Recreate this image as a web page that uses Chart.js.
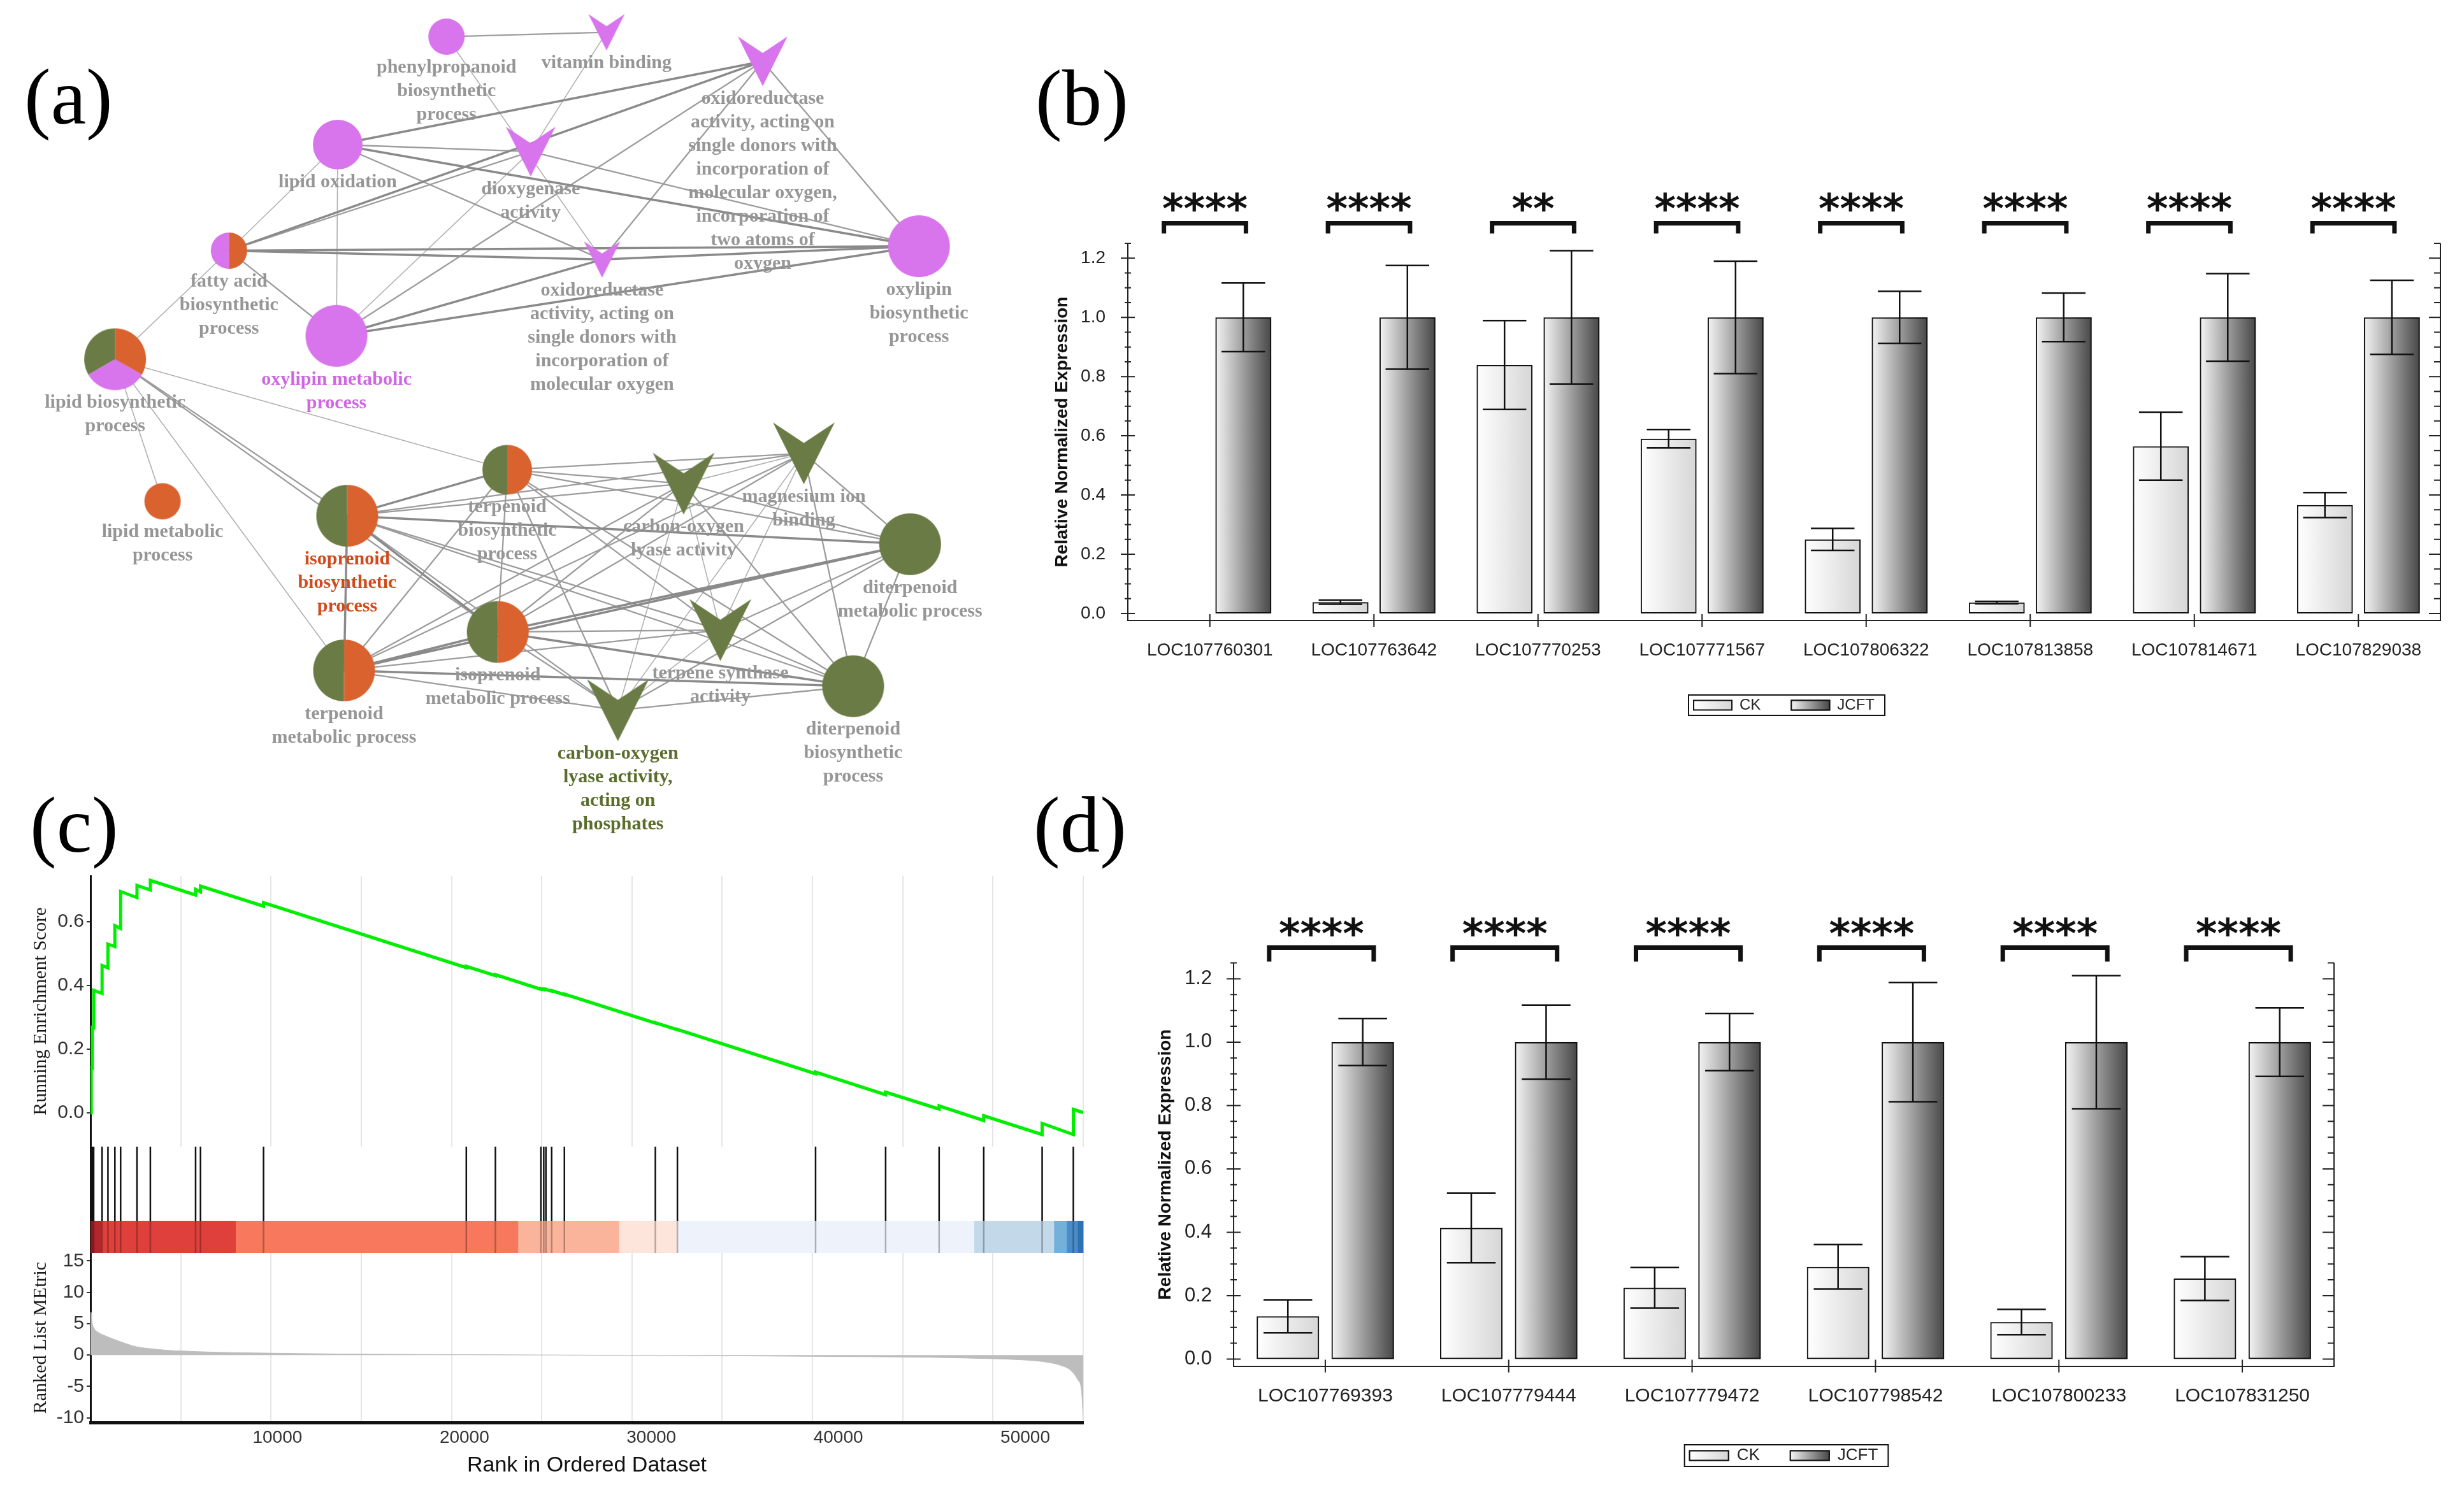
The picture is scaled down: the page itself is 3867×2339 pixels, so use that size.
<!DOCTYPE html>
<html>
<head>
<meta charset="utf-8">
<title>Network, qPCR and GSEA figure</title>
<script src="https://cdn.jsdelivr.net/npm/chart.js@4.4.1/dist/chart.umd.min.js"></script>
<style>
    html, body { margin: 0; padding: 0; background: #ffffff; }
    body { width: 3867px; height: 2339px; position: relative; overflow: hidden; }
    canvas { position: absolute; }
    .tag { position: absolute; font-family: "Liberation Serif", "Times New Roman", serif; font-size: 125px; line-height: 1; color: #000; }
</style>
</head>
<body>
<canvas id="networkChart" width="1600" height="1330" style="left:0;top:0"></canvas>
<canvas id="expressionB" width="2267" height="900" style="left:1600px;top:280px"></canvas>
<canvas id="esChart" width="1750" height="430" style="left:0;top:1370px"></canvas>
<canvas id="hitChart" width="1750" height="167" style="left:0;top:1800px"></canvas>
<canvas id="metricChart" width="1750" height="372" style="left:0;top:1967px"></canvas>
<canvas id="expressionD" width="1920" height="960" style="left:1780px;top:1400px"></canvas>

<div class="tag" style="left:38px;top:90px">(a)</div>
<div class="tag" style="left:1625px;top:92px">(b)</div>
<div class="tag" style="left:47px;top:1233px">(c)</div>
<div class="tag" style="left:1622px;top:1233px">(d)</div>

<script>
// ---------- (a) GO term network ----------
const termNames = [
    'phenylpropanoid\nbiosynthetic\nprocess',
    'vitamin binding',
    'oxidoreductase\nactivity, acting on\nsingle donors with\nincorporation of\nmolecular oxygen,\nincorporation of\ntwo atoms of\noxygen',
    'lipid oxidation',
    'dioxygenase\nactivity',
    'fatty acid\nbiosynthetic\nprocess',
    'oxidoreductase\nactivity, acting on\nsingle donors with\nincorporation of\nmolecular oxygen',
    'oxylipin\nbiosynthetic\nprocess',
    'oxylipin metabolic\nprocess',
    'lipid biosynthetic\nprocess',
    'lipid metabolic\nprocess',
    'isoprenoid\nbiosynthetic\nprocess',
    'terpenoid\nbiosynthetic\nprocess',
    'carbon-oxygen\nlyase activity',
    'magnesium ion\nbinding',
    'diterpenoid\nmetabolic process',
    'isoprenoid\nmetabolic process',
    'terpene synthase\nactivity',
    'terpenoid\nmetabolic process',
    'carbon-oxygen\nlyase activity,\nacting on\nphosphates',
    'diterpenoid\nbiosynthetic\nprocess'
];
const termOntology = ['BP', 'MF', 'MF', 'BP', 'MF', 'BP', 'MF', 'BP', 'BP', 'BP', 'BP', 'BP', 'BP', 'MF', 'MF', 'BP', 'BP', 'MF', 'BP', 'MF', 'BP'];
const termX = [700, 953, 1200, 528, 833, 356, 946, 1447, 526, 176, 251, 543, 796, 1075, 1265, 1433, 781, 1133, 538, 971, 1343];
const termY = [52, 45, 91, 223, 234, 391, 405, 384, 526, 563, 788, 811, 738, 760, 712, 856, 995, 992, 1056, 1119, 1081];
const termLevel = [1, 1, 2, 2, 2, 1, 1, 3, 3, 3, 1, 3, 2, 3, 3, 3, 3, 3, 3, 3, 3];
const termClusters = [[0], [0], [0], [0], [0], [0, 1], [0], [0], [0], [2, 1, 0], [1], [2, 1], [2, 1], [2], [2], [2], [2, 1], [2], [2, 1], [2], [2]];
const leadTerms = [8, 11, 19];
const termLinks = [
    [0, 1, 2], [0, 6, 1], [1, 4, 1], [3, 2, 3], [3, 4, 2], [3, 7, 3], [3, 6, 2], [3, 8, 1], [3, 5, 1],
    [5, 2, 3], [5, 4, 2], [5, 7, 3], [5, 6, 3], [5, 8, 2], [5, 9, 1], [8, 2, 2], [8, 4, 1], [8, 6, 3],
    [8, 7, 3], [2, 7, 2], [2, 6, 2], [4, 7, 2], [6, 7, 3],
    [9, 10, 1], [9, 11, 2], [9, 16, 2], [9, 18, 1], [9, 12, 1],
    [11, 12, 3], [11, 13, 2], [11, 14, 2], [11, 15, 3], [11, 16, 3], [11, 17, 2], [11, 18, 3], [11, 19, 2], [11, 20, 2],
    [12, 13, 2], [12, 14, 2], [12, 15, 2], [12, 16, 2], [12, 17, 2], [12, 18, 2], [12, 19, 2], [12, 20, 2],
    [13, 14, 1], [13, 15, 2], [13, 16, 2], [13, 17, 1], [13, 18, 2], [13, 19, 1], [13, 20, 2],
    [14, 15, 2], [14, 16, 2], [14, 17, 1], [14, 18, 2], [14, 19, 1], [14, 20, 2],
    [15, 16, 3], [15, 17, 2], [15, 18, 3], [15, 19, 2], [15, 20, 2],
    [16, 17, 2], [16, 18, 3], [16, 19, 2], [16, 20, 3],
    [17, 18, 2], [17, 19, 1], [17, 20, 2],
    [18, 19, 2], [18, 20, 3],
    [19, 20, 2]
];

// ---------- (b) qRT-PCR, first gene set ----------
const genesB = ['LOC107760301', 'LOC107763642', 'LOC107770253', 'LOC107771567', 'LOC107806322', 'LOC107813858', 'LOC107814671', 'LOC107829038'];
const ckB = [0, 0.038, 0.839, 0.590, 0.250, 0.037, 0.565, 0.366];
const ckErrB = [0, 0.007, 0.150, 0.031, 0.037, 0.004, 0.115, 0.042];
const jcftB = [1, 1, 1, 1, 1, 1, 1, 1];
const jcftErrB = [0.116, 0.175, 0.225, 0.190, 0.088, 0.082, 0.148, 0.125];
const sigB = ['****', '****', '**', '****', '****', '****', '****', '****'];

// ---------- (d) qRT-PCR, second gene set ----------
const genesD = ['LOC107769393', 'LOC107779444', 'LOC107779472', 'LOC107798542', 'LOC107800233', 'LOC107831250'];
const ckD = [0.135, 0.414, 0.225, 0.291, 0.117, 0.254];
const ckErrD = [0.052, 0.110, 0.064, 0.070, 0.040, 0.069];
const jcftD = [1, 1, 1, 1, 1, 1];
const jcftErrD = [0.074, 0.117, 0.090, 0.188, 0.210, 0.108];
const sigD = ['****', '****', '****', '****', '****', '****'];

// ---------- (c) GSEA ----------
const rankMax = 53100;
const rankTicks = [10000, 20000, 30000, 40000, 50000];
const hitRanks = [40, 100, 170, 620, 935, 1305, 1612, 2487, 3202, 5622, 5885, 9257, 20102, 21659, 24095, 24245, 24361, 24668, 25349, 30215, 31394, 38784, 42531, 45393, 47779, 50903, 52572];
const esBefore = [0.000, 0.140, 0.267, 0.375, 0.455, 0.522, 0.579, 0.676, 0.700, 0.684, 0.694, 0.649, 0.456, 0.431, 0.388, 0.387, 0.387, 0.382, 0.371, 0.282, 0.261, 0.123, 0.057, 0.012, -0.024, -0.068, -0.068];
const esAfter = [0.141, 0.268, 0.385, 0.463, 0.530, 0.588, 0.695, 0.714, 0.730, 0.702, 0.712, 0.660, 0.460, 0.434, 0.390, 0.389, 0.388, 0.384, 0.373, 0.283, 0.262, 0.128, 0.065, 0.022, -0.009, -0.033, 0.011];
const esEnd = 0.001;
const metricRanks = [0, 60, 80, 190, 420, 760, 1330, 1900, 2460, 3030, 4170, 4970, 6440, 8720, 13260, 19960, 24940, 29960, 34940, 39930, 44910, 48450, 49890, 51110, 51870, 52440, 52820, 53010, 53085, 53100];
const metricValues = [6.9, 6.5, 5.5, 4.3, 3.6, 3.1, 2.43, 1.82, 1.32, 1.07, 0.74, 0.64, 0.47, 0.34, 0.17, 0.07, 0.0, -0.07, -0.14, -0.24, -0.37, -0.61, -0.78, -1.12, -1.62, -2.47, -4.0, -5.7, -9.4, -10.3];
const bandStarts = [0, 590, 7770, 22880, 28280, 31390, 47270, 51540, 52220, 52800];
const bandColors = ['#b3262c', '#e0403c', '#f7785c', '#fbb49c', '#fde5dc', '#eef3fb', '#c3d9e9', '#74b0da', '#4a8cc8', '#2f71b3'];

// ---------- styles ----------
const levelDiameter = { 1: 57, 2: 78, 3: 97 };
const clusterColors = ['#d874ec', '#d9622f', '#6a7b46'];
const leadColors = ['#cf66e3', '#d2491c', '#5a6d2c'];
const linkStyles = { 3: { color: '#8a8a8a', width: 3.5 }, 2: { color: '#9c9c9c', width: 2.3 }, 1: { color: '#b0b0b0', width: 1.6 } };

Chart.defaults.font.family = '"Liberation Sans", Arial, sans-serif';
Chart.defaults.color = '#222';
Chart.defaults.animation = false;
Chart.defaults.events = [];
Chart.defaults.plugins.tooltip.enabled = false;
if (Chart.defaults.plugins.colors) Chart.defaults.plugins.colors.enabled = false;

function makeNodeImage(i) {
    const d = levelDiameter[termLevel[i]];
    const canvas = document.createElement('canvas');
    canvas.width = d + 2;
    canvas.height = d + 2;
    const g = canvas.getContext('2d');
    const cx = canvas.width / 2, cy = canvas.height / 2, r = d / 2;
    const groups = termClusters[i];

    if (termOntology[i] === 'MF') {
        g.fillStyle = clusterColors[groups[0]];
        g.beginPath();
        g.moveTo(cx - r, cy - r);
        g.lineTo(cx, cy - r / 3);
        g.lineTo(cx + r, cy - r);
        g.lineTo(cx, cy + r);
        g.closePath();
        g.fill();
    } else if (groups.length === 1) {
        g.fillStyle = clusterColors[groups[0]];
        g.beginPath();
        g.arc(cx, cy, r, 0, Math.PI * 2);
        g.fill();
    } else {
        const step = Math.PI * 2 / groups.length;
        let start = groups.length === 2 ? Math.PI / 2 : Math.PI * 5 / 6;
        groups.forEach(k => {
            g.fillStyle = clusterColors[k];
            g.beginPath();
            g.moveTo(cx, cy);
            g.arc(cx, cy, r, start, start + step);
            g.closePath();
            g.fill();
            start += step;
        });
    }
    return canvas;
}

const termLabelPlugin = {
    id: 'termLabels',
    afterDatasetsDraw(chart) {
        const ctx = chart.ctx;
        const xs = chart.scales.x, ys = chart.scales.y;
        ctx.save();
        ctx.font = 'bold 30px "Liberation Serif", "Times New Roman", serif';
        ctx.textAlign = 'center';
        ctx.textBaseline = 'middle';
        termNames.forEach((name, i) => {
            const lead = leadTerms.indexOf(i);
            ctx.fillStyle = lead >= 0 ? leadColors[lead] : '#969696';
            const px = xs.getPixelForValue(termX[i]);
            const py = ys.getPixelForValue(termY[i]) + levelDiameter[termLevel[i]] / 2 + 20;
            name.split('\n').forEach((line, k) => ctx.fillText(line, px, py + k * 37));
        });
        ctx.restore();
    }
};

function loadNetwork() {
    const nodes = {
        data: termX.map((x, i) => ({ x: x, y: termY[i] })),
        pointStyle: termX.map((x, i) => makeNodeImage(i)),
        pointRadius: 5,
        backgroundColor: clusterColors[0],
        borderColor: clusterColors[0],
        order: 0
    };
    const links = [3, 2, 1].map(w => ({
        data: termLinks.filter(l => l[2] === w).flatMap(l => [
            { x: termX[l[0]], y: termY[l[0]] },
            { x: termX[l[1]], y: termY[l[1]] },
            { x: null, y: null }
        ]),
        showLine: true,
        borderColor: linkStyles[w].color,
        backgroundColor: linkStyles[w].color,
        borderWidth: linkStyles[w].width,
        pointRadius: 0,
        order: 1
    }));

    new Chart(document.getElementById('networkChart'), {
        type: 'scatter',
        data: { datasets: [nodes, ...links] },
        options: {
            responsive: false,
            layout: { padding: 0 },
            plugins: { legend: { display: false } },
            scales: {
                x: { type: 'linear', min: 0, max: 1600, display: false },
                y: { type: 'linear', min: 0, max: 1330, reverse: true, display: false }
            }
        },
        plugins: [termLabelPlugin]
    });
}

// bars, error bars, significance brackets, axis ticks and legend swatches
function expressionDecor(look, marks) {
    return {
        id: 'expressionDecor',
        beforeDatasetsDraw(chart) {
            const ctx = chart.ctx;
            chart.data.datasets.forEach((ds, di) => {
                chart.getDatasetMeta(di).data.forEach(bar => {
                    const h = bar.base - bar.y;
                    if (h <= 0) return;
                    const left = bar.x - bar.width / 2;
                    const grad = ctx.createLinearGradient(left, 0, left + bar.width, 0);
                    grad.addColorStop(0, ds.shade[0]);
                    grad.addColorStop(1, ds.shade[1]);
                    ctx.fillStyle = grad;
                    ctx.fillRect(left, bar.y, bar.width, h);
                });
            });
        },
        afterDatasetsDraw(chart) {
            const ctx = chart.ctx, y = chart.scales.y;
            ctx.save();
            ctx.strokeStyle = '#111';
            ctx.lineWidth = 2.5;
            chart.data.datasets.forEach((ds, di) => {
                chart.getDatasetMeta(di).data.forEach((bar, i) => {
                    const v = ds.data[i], e = ds.errors[i];
                    if (!e) return;
                    const top = y.getPixelForValue(v + e), bottom = y.getPixelForValue(v - e);
                    const half = bar.width * 0.39;
                    ctx.beginPath();
                    ctx.moveTo(bar.x, top); ctx.lineTo(bar.x, bottom);
                    ctx.moveTo(bar.x - half, top); ctx.lineTo(bar.x + half, top);
                    ctx.moveTo(bar.x - half, bottom); ctx.lineTo(bar.x + half, bottom);
                    ctx.stroke();
                });
            });
            ctx.restore();
        },
        afterDraw(chart) {
            const ctx = chart.ctx, a = chart.chartArea;
            const x = chart.scales.x, y = chart.scales.y;
            ctx.save();

            // frame: right axis, minor ticks, category ticks
            ctx.strokeStyle = '#222';
            ctx.lineWidth = 2;
            ctx.beginPath();
            ctx.moveTo(a.right, a.top); ctx.lineTo(a.right, a.bottom);
            for (let k = 0; k * 0.05 <= 1.2501; k++) {
                const py = y.getPixelForValue(k * 0.05);
                const major = k % 4 === 0;
                ctx.moveTo(a.left - (major ? 11 : 5), py); ctx.lineTo(a.left + (major ? 11 : 5), py);
                ctx.moveTo(a.right - (major ? 18 : 10), py); ctx.lineTo(a.right, py);
            }
            chart.data.labels.forEach((lbl, i) => {
                const px = x.getPixelForValue(i);
                ctx.moveTo(px, a.bottom - 10); ctx.lineTo(px, a.bottom + 10);
            });
            ctx.stroke();

            // significance brackets
            const cw = (a.right - a.left) / chart.data.labels.length;
            const top = y.getPixelForValue(look.sigLevel);
            ctx.strokeStyle = '#111';
            ctx.fillStyle = '#111';
            ctx.lineWidth = 7;
            ctx.font = 'bold ' + look.starSize + 'px "DejaVu Sans", sans-serif';
            ctx.textAlign = 'center';
            ctx.textBaseline = 'alphabetic';
            marks.forEach((m, i) => {
                const cx = x.getPixelForValue(i);
                const l = cx - look.bracketL * cw, r = cx + look.bracketR * cw;
                ctx.beginPath();
                ctx.moveTo(l, top + look.leg); ctx.lineTo(l, top); ctx.lineTo(r, top); ctx.lineTo(r, top + look.leg);
                ctx.stroke();
                ctx.fillText(m, (l + r) / 2, top);
            });

            // legend swatches and frame
            const lg = chart.legend;
            if (lg && lg.legendHitBoxes && lg.legendHitBoxes.length) {
                const fs = look.legendFont, bw = look.boxW, bh = 15;
                const boxes = lg.legendHitBoxes;
                ctx.lineWidth = 2;
                boxes.forEach((hb, i) => {
                    const ds = chart.data.datasets[i];
                    const by = hb.top + Math.max((fs - bh) / 2, 0);
                    const grad = ctx.createLinearGradient(hb.left, 0, hb.left + bw, 0);
                    grad.addColorStop(0, ds.shade[0]);
                    grad.addColorStop(1, ds.shade[1]);
                    ctx.fillStyle = grad;
                    ctx.fillRect(hb.left, by, bw, bh);
                    ctx.strokeRect(hb.left, by, bw, bh);
                });
                const first = boxes[0], last = boxes[boxes.length - 1];
                const left = first.left - 8;
                ctx.strokeRect(left, first.top - 4, last.left + last.width + 16 - left, fs + 8);
            }
            ctx.restore();
        }
    };
}

function loadExpressionChart(canvasId, genes, ck, ckErr, jcft, jcftErr, marks, look) {
    const barStyle = {
        categoryPercentage: 0.816,
        barPercentage: 0.835,
        backgroundColor: 'rgba(0,0,0,0)',
        borderColor: '#111',
        borderWidth: c => (c.raw > 0 ? 2 : 0),
        borderSkipped: false
    };
    new Chart(document.getElementById(canvasId), {
        type: 'bar',
        data: {
            labels: genes,
            datasets: [
                Object.assign({ label: 'CK', data: ck, errors: ckErr, shade: ['#ffffff', '#d6d6d6'] }, barStyle),
                Object.assign({ label: 'JCFT', data: jcft, errors: jcftErr, shade: ['#f4f4f4', '#474747'] }, barStyle)
            ]
        },
        options: {
            responsive: false,
            layout: { padding: look.padding },
            plugins: {
                legend: {
                    position: 'bottom',
                    fullSize: false,
                    onClick: null,
                    labels: { boxWidth: look.boxW, boxHeight: 15, padding: 48, font: { size: look.legendFont }, color: '#222' }
                }
            },
            scales: {
                x: {
                    grid: { display: false },
                    border: { display: true, color: '#222', width: 2 },
                    ticks: { font: { size: look.xFont }, padding: look.xPad, color: '#222', maxRotation: 0, autoSkip: false },
                    afterFit: s => { s.height = look.xHeight; }
                },
                y: {
                    min: look.yMin,
                    max: 1.25,
                    grid: { display: false },
                    border: { display: true, color: '#222', width: 2 },
                    ticks: { stepSize: 0.2, includeBounds: false, font: { size: look.yFont }, padding: look.yPad, color: '#222', callback: v => v.toFixed(1) },
                    title: {
                        display: true,
                        text: 'Relative Normalized Expression',
                        font: { size: look.titleFont, weight: 'bold' },
                        color: '#111',
                        padding: { top: look.titlePad, bottom: 0 }
                    },
                    afterFit: s => { s.width = look.yWidth; s.paddingTop = 0; s.paddingBottom = 0; }
                }
            }
        },
        plugins: [expressionDecor(look, marks)]
    });
}

// shared rank axis of the three GSEA strips
function rankAxis(withTitle) {
    return {
        type: 'linear',
        min: 0,
        max: rankMax,
        grid: { color: '#e6e6e6', lineWidth: 2, drawTicks: false },
        border: { display: withTitle, color: '#111', width: 5 },
        ticks: { display: false, stepSize: 5000, includeBounds: false },
        title: { display: withTitle, text: 'Rank in Ordered Dataset', font: { size: 34 }, color: '#111', padding: { top: 0, bottom: 18 } },
        afterFit: s => { s.height = withTitle ? 106 : 0; }
    };
}

// rank tick labels written under the metric strip at the rank scale positions
const rankLabelPlugin = {
    id: 'rankLabels',
    afterDraw(chart) {
        const ctx = chart.ctx, x = chart.scales.x, a = chart.chartArea;
        ctx.save();
        ctx.font = '28px "Liberation Sans", Arial, sans-serif';
        ctx.fillStyle = '#333';
        ctx.textAlign = 'center';
        ctx.textBaseline = 'middle';
        rankTicks.forEach(v => ctx.fillText(String(v), x.getPixelForValue(v), a.bottom + 24));
        ctx.restore();
    }
};

function leftAxis(range, step, title, showTicks) {
    return {
        min: range[0],
        max: range[1],
        ticks: {
            display: showTicks,
            stepSize: step,
            includeBounds: false,
            font: { size: 30 },
            color: '#333',
            padding: 4,
            callback: v => (step < 1 ? v.toFixed(1) : String(v))
        },
        grid: { display: showTicks, drawOnChartArea: false, tickLength: 6, color: '#333', lineWidth: 2 },
        border: { display: true, color: '#111', width: 3 },
        title: {
            display: !!title,
            text: title || '',
            font: { family: '"Liberation Serif", "Times New Roman", serif', size: 30 },
            color: '#1a1a1a',
            padding: { top: 46, bottom: 0 }
        },
        afterFit: s => { s.width = 142; s.paddingTop = 0; s.paddingBottom = 0; }
    };
}

const bandPlugin = {
    id: 'rankBand',
    beforeDatasetsDraw(chart) {
        const ctx = chart.ctx, x = chart.scales.x, y = chart.scales.y;
        const y0 = y.getPixelForValue(0.3), y1 = y.getPixelForValue(0);
        bandStarts.forEach((start, i) => {
            const end = i + 1 < bandStarts.length ? bandStarts[i + 1] : rankMax;
            const x0 = x.getPixelForValue(start), x1 = x.getPixelForValue(end);
            ctx.fillStyle = bandColors[i];
            ctx.fillRect(x0, y0, x1 - x0 + 0.5, y1 - y0);
        });
    }
};

function hitSegments(lo, hi) {
    return hitRanks.flatMap(r => [{ x: r, y: lo }, { x: r, y: hi }, { x: null, y: null }]);
}

function loadGsea() {
    const esPoints = [{ x: 0, y: 0 }];
    hitRanks.forEach((r, i) => {
        esPoints.push({ x: r, y: esBefore[i] }, { x: r, y: esAfter[i] });
    });
    esPoints.push({ x: rankMax, y: esEnd });

    new Chart(document.getElementById('esChart'), {
        type: 'line',
        data: { datasets: [{ data: esPoints, borderColor: '#00ee00', backgroundColor: '#00ee00', borderWidth: 5, pointRadius: 0, tension: 0 }] },
        options: {
            responsive: false,
            layout: { padding: { top: 5, right: 50, bottom: 0, left: 0 } },
            plugins: { legend: { display: false } },
            scales: {
                x: rankAxis(false),
                y: leftAxis([-0.106, 0.744], 0.2, 'Running Enrichment Score', true)
            }
        }
    });

    new Chart(document.getElementById('hitChart'), {
        type: 'scatter',
        data: {
            datasets: [
                { data: hitSegments(0.3, 1), showLine: true, borderColor: '#111', backgroundColor: '#111', borderWidth: 2.5, pointRadius: 0 },
                { data: hitSegments(0, 0.3), showLine: true, borderColor: 'rgba(0,0,0,0.28)', backgroundColor: 'rgba(0,0,0,0.28)', borderWidth: 2.5, pointRadius: 0 }
            ]
        },
        options: {
            responsive: false,
            layout: { padding: { top: 0, right: 50, bottom: 0, left: 0 } },
            plugins: { legend: { display: false } },
            scales: {
                x: { type: 'linear', min: 0, max: rankMax, display: false },
                y: leftAxis([0, 1], 1, '', false)
            }
        },
        plugins: [bandPlugin]
    });

    new Chart(document.getElementById('metricChart'), {
        type: 'line',
        data: {
            datasets: [{
                data: metricRanks.map((r, i) => ({ x: r, y: metricValues[i] })),
                fill: 'origin',
                backgroundColor: '#bdbdbd',
                borderColor: '#bdbdbd',
                borderWidth: 1,
                pointRadius: 0,
                cubicInterpolationMode: 'monotone'
            }]
        },
        options: {
            responsive: false,
            layout: { padding: { top: 0, right: 50, bottom: 0, left: 0 } },
            plugins: { legend: { display: false } },
            scales: {
                x: rankAxis(true),
                y: leftAxis([-10.75, 16.26], 5, 'Ranked List MEtric', true)
            }
        },
        plugins: [rankLabelPlugin]
    });
}

document.addEventListener('DOMContentLoaded', () => {
    loadNetwork();

    loadExpressionChart('expressionB', genesB, ckB, ckErrB, jcftB, jcftErrB, sigB, {
        padding: { top: 102, right: 37, bottom: 51, left: 0 },
        yMin: -0.0237, yWidth: 170, yFont: 28, yPad: 27, titleFont: 28, titlePad: 50,
        xFont: 28, xPad: 22, xHeight: 73,
        legendFont: 24, boxW: 60,
        sigLevel: 1.318, leg: 16, starSize: 64, bracketL: 0.28, bracketR: 0.22
    });

    loadExpressionChart('expressionD', genesD, ckD, ckErrD, jcftD, jcftErrD, sigD, {
        padding: { top: 111.5, right: 37, bottom: 52, left: 0 },
        yMin: -0.0221, yWidth: 156, yFont: 31, yPad: 26, titleFont: 28, titlePad: 32,
        xFont: 30, xPad: 21.5, xHeight: 79.5,
        legendFont: 26, boxW: 61,
        sigLevel: 1.298, leg: 22, starSize: 64, bracketL: 0.306, bracketR: 0.264
    });

    loadGsea();
});
</script>
</body>
</html>
